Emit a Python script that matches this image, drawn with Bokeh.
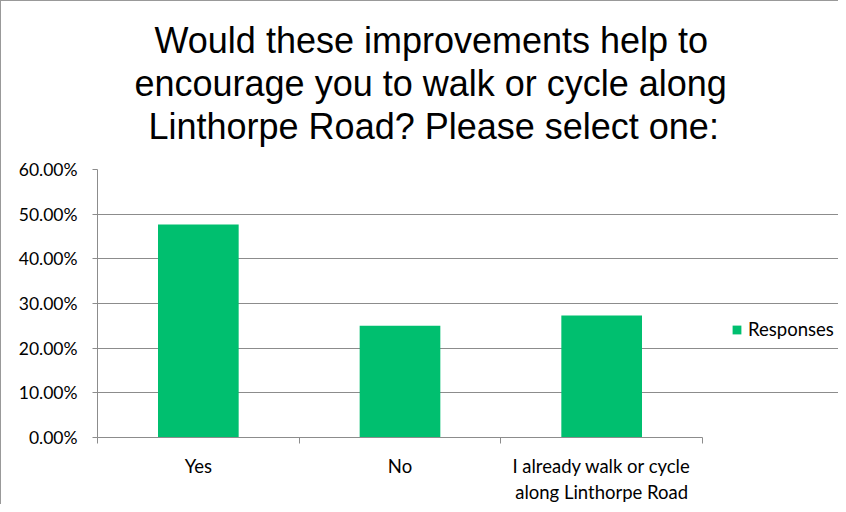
import numpy as np
from bokeh.plotting import figure
from bokeh.models import (ColumnDataSource, Range1d, FixedTicker, Legend, LegendItem,
                          Title, NumeralTickFormatter)
from bokeh.embed import file_html
from bokeh.resources import INLINE

categories = ["Yes", "No", "I already walk or cycle\nalong Linthorpe Road"]
responses = [0.477, 0.250, 0.273]
y_ticks = [0.0, 0.1, 0.2, 0.3, 0.4, 0.5, 0.6]
title_lines = ["Would these improvements help to",
               "encourage you to walk or cycle along",
               "Linthorpe Road? Please select one:"]
title_offsets = [57, 37, 51]   # left indent of each centred title line, px
series_name = "Responses"

GREEN = "#00BF6F"
GRID = "#8C8C8C"
FONT = "Lato"

W, H = 838, 504
LEFT, TOP, BOTTOM = 96, 168, 65
AXIS_RIGHT = 701          # pixel where the category axis ends
n = len(categories)
px_per_cat = (AXIS_RIGHT - LEFT) / n
x_end = n + (W - AXIS_RIGHT) / px_per_cat   # frame runs on to the right edge (room for legend)

xpos = np.arange(n) + 0.5
src = ColumnDataSource(dict(x=xpos, top=responses))

p = figure(width=W, height=H, output_backend="svg", toolbar_location=None,
           x_range=Range1d(0, x_end), y_range=Range1d(0, 0.6),
           min_border_left=LEFT, min_border_right=0, min_border_bottom=BOTTOM,
           min_border_top=TOP)

r = p.vbar(x="x", top="top", width=0.4, source=src, fill_color=GREEN, line_color=None)

# spacer between the title and the plot
p.add_layout(Title(text=" ", text_font_size="1px", standoff=20), "above")
for line, off in reversed(list(zip(title_lines, title_offsets))):
    t = Title(text=line, align="left", text_font="Liberation Sans",
              text_font_size="36px", text_font_style="normal", text_color="#000000",
              standoff=0, offset=off)
    p.add_layout(t, "above")

p.outline_line_color = None
p.background_fill_color = "white"
p.border_fill_color = "white"

# y axis
p.yaxis.ticker = FixedTicker(ticks=y_ticks)
p.yaxis.formatter = NumeralTickFormatter(format="0.00%")
p.yaxis.axis_line_color = GRID
p.yaxis.major_tick_line_color = GRID
p.yaxis.major_tick_in = 0
p.yaxis.major_tick_out = 5
p.yaxis.minor_tick_line_color = None
p.yaxis.major_label_text_font = FONT
p.yaxis.major_label_text_font_size = "17.5px"
p.yaxis.major_label_text_color = "#000000"
p.yaxis.major_label_standoff = 15

# x axis: labels at centers, ticks at category boundaries
p.xaxis.bounds = (0, n)
p.xaxis.ticker = FixedTicker(ticks=list(xpos), minor_ticks=list(np.arange(n + 1)))
p.xaxis.major_label_overrides = {float(x): c for x, c in zip(xpos, categories)}
p.xaxis.axis_line_color = GRID
p.xaxis.major_tick_line_color = None
p.xaxis.minor_tick_line_color = GRID
p.xaxis.minor_tick_in = 0
p.xaxis.minor_tick_out = 6
p.xaxis.major_label_text_font = FONT
p.xaxis.major_label_text_font_size = "18.5px"
p.xaxis.major_label_text_color = "#000000"
p.xaxis.major_label_standoff = 11
p.xaxis.major_label_text_align = "center"

p.xgrid.grid_line_color = None
p.ygrid.grid_line_color = GRID
p.ygrid.grid_line_width = 1
p.ygrid.bounds = (0, n)

legend = Legend(items=[LegendItem(label=series_name, renderers=[r])],
                location=(634, 97), padding=0, margin=0, border_line_color=None,
                background_fill_alpha=0, glyph_width=11, glyph_height=11,
                label_standoff=6, label_text_font=FONT, label_text_font_size="18.5px",
                label_text_color="#000000")
p.add_layout(legend, "center")

p.styles = {"border-left": "1px solid #999999", "border-top": "1px solid #999999"}

open("out.html", "w").write(file_html(p, INLINE))
